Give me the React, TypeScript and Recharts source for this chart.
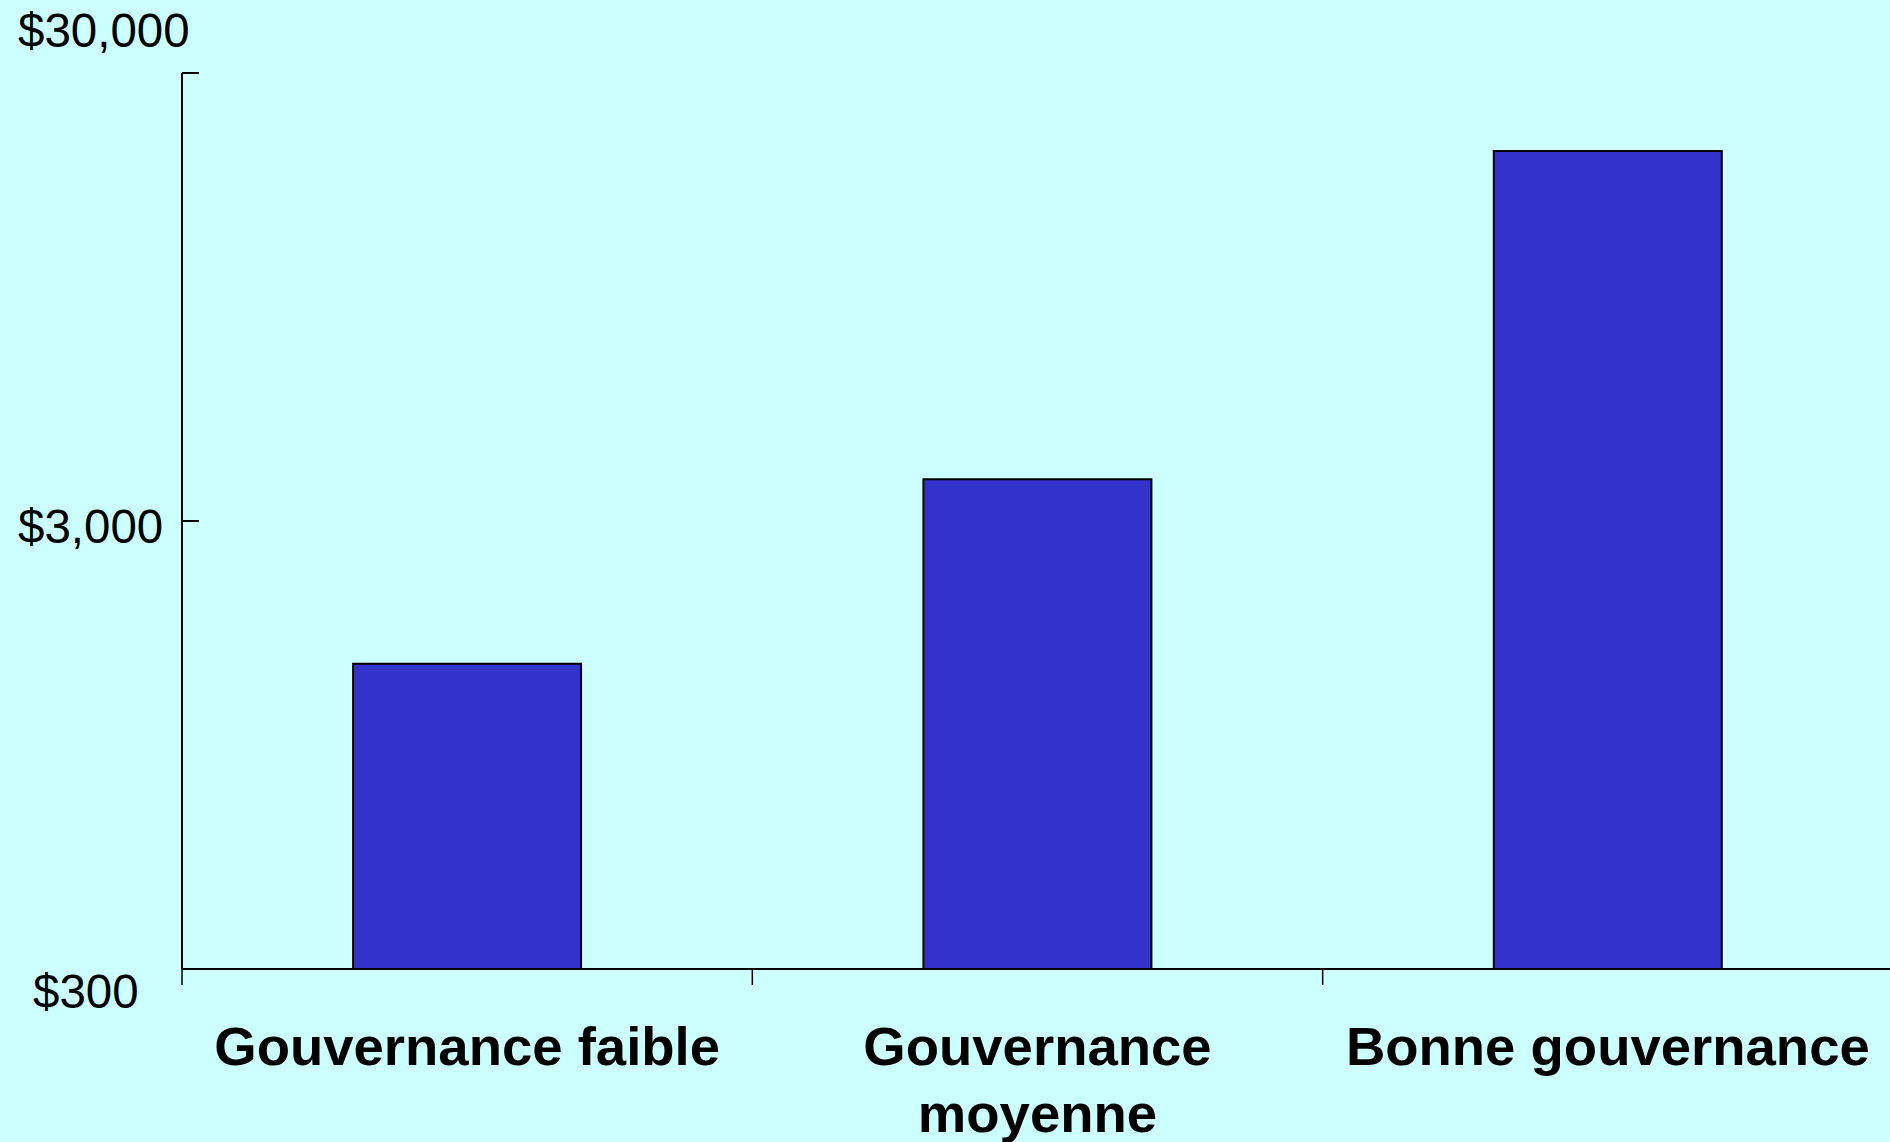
import { BarChart, Bar, XAxis, YAxis } from 'recharts';

const categories = ['Gouvernance faible', 'Gouvernance moyenne', 'Bonne gouvernance'];
const incomeValues = [1440, 3720, 20100];
const yTicks = [300, 3000, 30000];
const yTickLabels = ['$300', '$3,000', '$30,000'];

const data = categories.map((name, i) => ({ name, income: incomeValues[i] }));

const W = 1890;
const H = 1142;
const MARGIN = { top: 73, right: -3, left: 0, bottom: 0 };
const Y_AXIS_W = 182;
const X_AXIS_H = 173;
const BAND = (W - Y_AXIS_W - MARGIN.left - MARGIN.right) / categories.length;
const FONT = '"Liberation Sans", Arial, Helvetica, sans-serif';
const X_FONT_SIZE = 54.5;

// label placement of the y ticks (they are not centred on the tick marks)
const Y_LABEL_POS = [
  { x: 33, dy: 39 },
  { x: 18, dy: 22 },
  { x: 18, dy: -26 },
];

let ctx: CanvasRenderingContext2D | null = null;
function measure(s: string) {
  if (!ctx) ctx = document.createElement('canvas').getContext('2d');
  if (!ctx) return s.length * X_FONT_SIZE * 0.55;
  ctx.font = `bold ${X_FONT_SIZE}px ${FONT}`;
  return ctx.measureText(s).width;
}

function wrap(label: string, maxW: number) {
  const lines: string[] = [];
  let cur = '';
  for (const w of label.split(' ')) {
    const next = cur ? cur + ' ' + w : w;
    if (cur && measure(next) > maxW) {
      lines.push(cur);
      cur = w;
    } else cur = next;
  }
  if (cur) lines.push(cur);
  return lines;
}

function YTick(props: any) {
  const { x, y, payload } = props;
  const i = yTicks.indexOf(payload.value);
  const pos = Y_LABEL_POS[i];
  return (
    <g>
      <line x1={x} x2={x + 17} y1={y} y2={y} stroke="#000" strokeWidth={2} />
      <text x={pos.x} y={y + pos.dy} fontSize={47.5} fontFamily={FONT} fill="#000">
        {yTickLabels[i]}
      </text>
    </g>
  );
}

function XTick(props: any) {
  const { x, y, payload } = props;
  const left = x - BAND / 2;
  const lines = wrap(payload.value, BAND - 10);
  return (
    <g>
      <line x1={left} x2={left} y1={y} y2={y + 16} stroke="#000" strokeWidth={1.5} />
      <text x={x} y={y + 96} textAnchor="middle" fontSize={X_FONT_SIZE} fontWeight="bold" fontFamily={FONT} fill="#000">
        {lines.map((l, i) => (
          <tspan key={i} x={x} dy={i === 0 ? 0 : 67}>
            {l}
          </tspan>
        ))}
      </text>
    </g>
  );
}

export default function App() {
  return (
    <div style={{ position: 'absolute', left: 0, top: 0, width: W, height: H, background: '#CCFFFF' }}>
      <BarChart width={W} height={H} data={data} margin={MARGIN} barCategoryGap="30%">
        <XAxis
          dataKey="name"
          height={X_AXIS_H}
          tickSize={0}
          tickMargin={0}
          tickLine={false}
          axisLine={{ stroke: '#000', strokeWidth: 2 }}
          tick={<XTick />}
          interval={0}
        />
        <YAxis
          type="number"
          scale="log"
          domain={[300, 30000]}
          allowDataOverflow
          ticks={yTicks}
          width={Y_AXIS_W}
          tickSize={0}
          tickMargin={0}
          tickLine={false}
          axisLine={{ stroke: '#000', strokeWidth: 2 }}
          tick={<YTick />}
          interval={0}
        />
        <Bar dataKey="income" fill="#3333CC" stroke="#000" strokeWidth={2} isAnimationActive={false} />
      </BarChart>
    </div>
  );
}
